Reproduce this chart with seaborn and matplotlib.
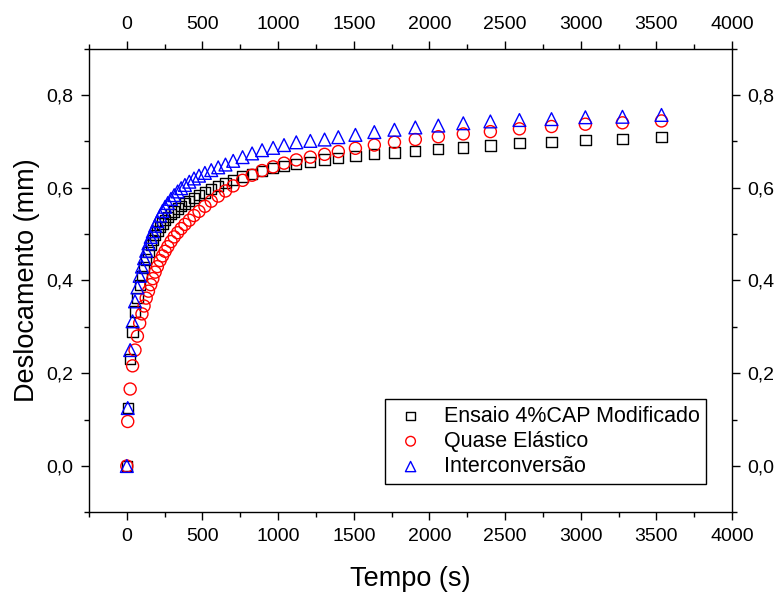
import matplotlib
matplotlib.use("Agg")
import matplotlib.pyplot as plt
import seaborn as sns
import pandas as pd
from matplotlib.ticker import MultipleLocator, FuncFormatter

# ---- data ----
tempo = [0, 6, 22, 38, 54, 70, 85, 100, 114, 128, 143, 158, 172, 187, 202, 220,
         236, 253, 271, 292, 313, 336, 359, 384, 413, 444, 477, 516, 558, 604,
         652, 703, 765, 828, 894, 967, 1039, 1120, 1213, 1307, 1398, 1511, 1636,
         1769, 1907, 2059, 2224, 2403, 2595, 2807, 3031, 3276, 3534]

ensaio = [0.000, 0.125, 0.230, 0.290, 0.333, 0.363, 0.390, 0.410, 0.428, 0.445,
          0.462, 0.476, 0.488, 0.498, 0.507, 0.516, 0.523, 0.530, 0.537, 0.543,
          0.549, 0.555, 0.560, 0.566, 0.572, 0.578, 0.584, 0.590, 0.597, 0.603,
          0.610, 0.617, 0.624, 0.629, 0.636, 0.642, 0.647, 0.651, 0.656, 0.661,
          0.664, 0.668, 0.672, 0.676, 0.679, 0.684, 0.687, 0.691, 0.696, 0.698,
          0.703, 0.705, 0.709]

quase_elastico = [0.000, 0.096, 0.166, 0.216, 0.250, 0.280, 0.308, 0.328, 0.345,
                  0.362, 0.377, 0.391, 0.404, 0.418, 0.430, 0.443, 0.453, 0.463,
                  0.473, 0.484, 0.494, 0.503, 0.512, 0.521, 0.530, 0.540, 0.549,
                  0.560, 0.571, 0.582, 0.593, 0.604, 0.616, 0.627, 0.637, 0.645,
                  0.653, 0.660, 0.666, 0.672, 0.678, 0.685, 0.692, 0.698, 0.704,
                  0.710, 0.716, 0.721, 0.727, 0.732, 0.737, 0.740, 0.744]

interconversao = [0.000, 0.125, 0.250, 0.312, 0.355, 0.385, 0.410, 0.430, 0.448,
                  0.464, 0.480, 0.494, 0.506, 0.518, 0.528, 0.540, 0.550, 0.559,
                  0.567, 0.576, 0.584, 0.592, 0.599, 0.606, 0.613, 0.620, 0.626,
                  0.632, 0.638, 0.644, 0.650, 0.658, 0.666, 0.674, 0.681, 0.686,
                  0.692, 0.698, 0.701, 0.704, 0.709, 0.714, 0.720, 0.725, 0.730,
                  0.734, 0.739, 0.743, 0.746, 0.748, 0.752, 0.753, 0.757]

series_names = ["Ensaio 4%CAP Modificado", "Quase Elástico", "Interconversão"]
x_ticks = [0, 500, 1000, 1500, 2000, 2500, 3000, 3500, 4000]
y_ticks = [0.0, 0.2, 0.4, 0.6, 0.8]

sns.set_theme(style="white")
plt.rcParams["font.family"] = ["Liberation Sans", "DejaVu Sans"]
plt.rcParams["text.color"] = "black"
plt.rcParams["axes.labelcolor"] = "black"
plt.rcParams["xtick.color"] = "black"
plt.rcParams["ytick.color"] = "black"

fig = plt.figure(figsize=(7.74, 5.95), dpi=100)
# axes box: left 89px, right 732px, top 48.6px, bottom 512.4px
ax = fig.add_axes([89 / 774, 1 - 512.4 / 595, 643 / 774, 463.8 / 595])

styles = [("s", "black", 55), ("o", "red", 75), ("^", "blue", 85)]
for name, vals, (mk, col, sz) in zip(series_names,
                                     [ensaio, quase_elastico, interconversao],
                                     styles):
    df = pd.DataFrame({"Tempo": tempo, "Desl": vals})
    sns.scatterplot(data=df, x="Tempo", y="Desl", ax=ax, marker=mk, s=sz,
                    facecolors="none", edgecolor=col, linewidth=1.0,
                    label=name, zorder=3)

ax.set_xlim(-250, 4000)
ax.set_ylim(-0.1, 0.9)
ax.set_xticks(x_ticks)
ax.set_yticks(y_ticks)
ax.xaxis.set_minor_locator(MultipleLocator(250))
ax.yaxis.set_minor_locator(MultipleLocator(0.1))
ax.yaxis.set_major_formatter(FuncFormatter(lambda v, p: f"{v:.1f}".replace(".", ",")))

ax.tick_params(which="both", direction="out", color="black", width=1.0,
               top=True, right=True, bottom=True, left=True,
               labeltop=True, labelright=True, labelsize=14, pad=5)
ax.tick_params(which="major", length=6)
ax.tick_params(which="minor", length=3.5)
for sp in ax.spines.values():
    sp.set_color("black")
    sp.set_linewidth(1.0)

ax.set_xlabel("Tempo (s)", fontsize=19.5, labelpad=15)
ax.set_ylabel("Deslocamento (mm)", fontsize=19.5, labelpad=5)

leg = ax.legend(loc="lower right", bbox_to_anchor=(0.96, 0.062),
                borderaxespad=0, fancybox=False, framealpha=1,
                edgecolor="black", fontsize=15.5, handletextpad=0.65,
                borderpad=0.3, labelspacing=0.2, handlelength=1.8,
                markerscale=0.8)
leg.get_frame().set_linewidth(1.0)

fig.savefig("out.png", dpi=100)
